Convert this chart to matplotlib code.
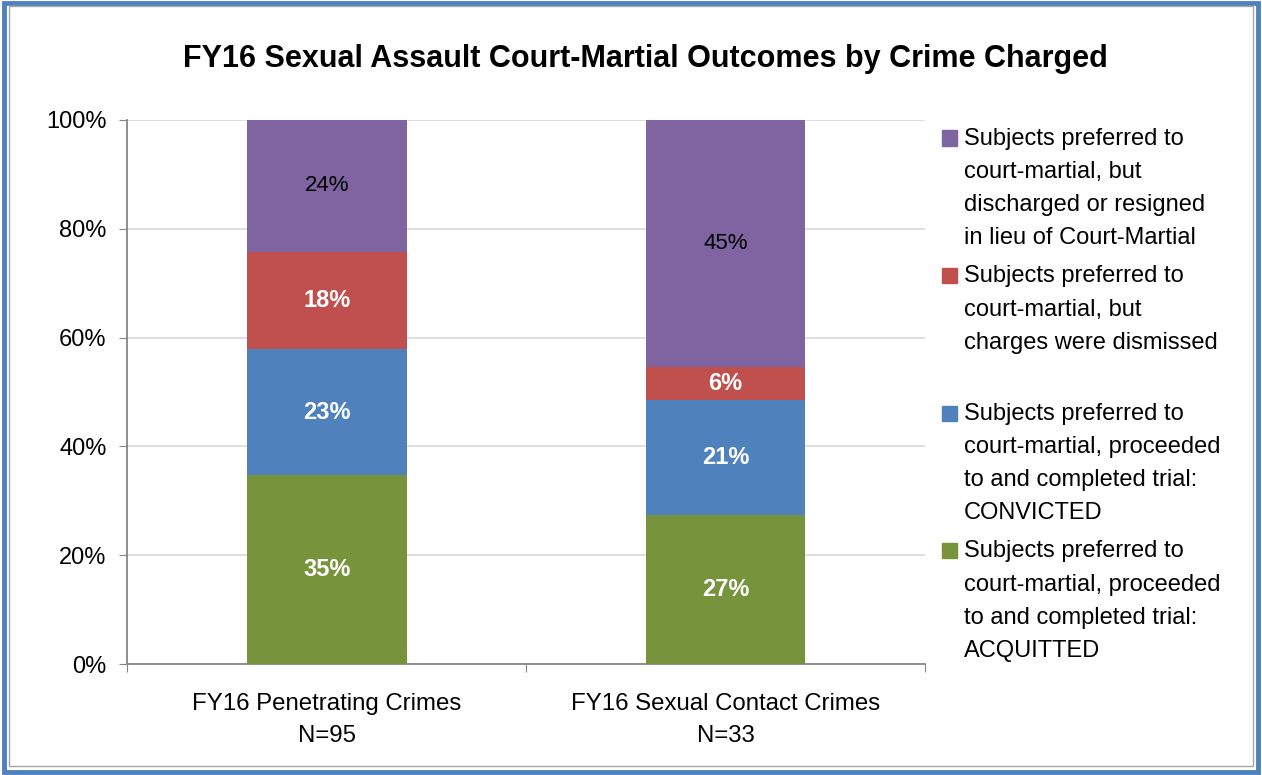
import matplotlib.pyplot as plt
from matplotlib.patches import Rectangle
import numpy as np

plt.rcParams['font.family'] = ['Liberation Sans', 'DejaVu Sans']

# data
categories = ["FY16 Penetrating Crimes\nN=95", "FY16 Sexual Contact Crimes\nN=33"]
acquitted = [34.7, 27.3]
convicted = [23.2, 21.2]
dismissed = [17.9, 6.1]
discharged = [24.2, 45.4]
value_labels = [["35%", "27%"], ["23%", "21%"], ["18%", "6%"], ["24%", "45%"]]

series_names = [
    "Subjects preferred to\ncourt-martial, proceeded\nto and completed trial:\nACQUITTED",
    "Subjects preferred to\ncourt-martial, proceeded\nto and completed trial:\nCONVICTED",
    "Subjects preferred to\ncourt-martial, but\ncharges were dismissed",
    "Subjects preferred to\ncourt-martial, but\ndischarged or resigned\nin lieu of Court-Martial",
]
colors = ["#77933C", "#4F81BD", "#C0504D", "#8064A2"]
label_colors = ["white", "white", "white", "black"]
label_bold = [True, True, True, False]

fig = plt.figure(figsize=(12.62, 7.75), dpi=100)
ax = fig.add_axes([0.101, 0.1432, 0.632, 0.702])

x = np.arange(len(categories))
bottom = np.zeros(len(categories))
for i, vals in enumerate([acquitted, convicted, dismissed, discharged]):
    vals = np.array(vals)
    ax.bar(x, vals, 0.4, bottom=bottom, color=colors[i], zorder=3)
    for j in range(len(x)):
        ax.text(x[j], bottom[j] + vals[j] / 2, value_labels[i][j],
                ha='center', va='center', fontsize=17 if label_bold[i] else 16,
                color=label_colors[i],
                fontweight='bold' if label_bold[i] else 'normal', zorder=4)
    bottom += vals

ax.set_xlim(-0.5, 1.5)
ax.set_ylim(0, 100)
ax.set_yticks([0, 20, 40, 60, 80, 100])
ax.set_yticklabels(["0%", "20%", "40%", "60%", "80%", "100%"], fontsize=17)
ax.yaxis.grid(True, color='#d9d9d9', linewidth=1.2, zorder=0)
ax.set_xticks([-0.5, 0.5, 1.5])
ax.set_xticklabels([])
ax.set_xticks(x, minor=True)
ax.set_xticklabels(categories, minor=True, fontsize=17.3, linespacing=1.55)
ax.tick_params(axis='x', which='minor', length=0, pad=21)
ax.tick_params(axis='x', which='major', length=6, color='#868686', direction='out')
ax.tick_params(axis='y', length=6, color='#868686', pad=9)
for s in ['top', 'right']:
    ax.spines[s].set_visible(False)
ax.spines['left'].set_color('#868686')
ax.spines['bottom'].set_color('#868686')
ax.spines['left'].set_linewidth(1.3)
ax.spines['bottom'].set_linewidth(1.3)

fig.text(0.5115, 0.924, "FY16 Sexual Assault Court-Martial Outcomes by Crime Charged",
         ha='center', va='center', fontsize=22, fontweight='bold')

# legend, top entry first
W, H = 1262.0, 775.0
for k, i in enumerate([3, 2, 1, 0]):
    yc = 138 + k * 137.5
    fig.patches.append(Rectangle((942 / W, 1 - (yc + 7.5) / H), 15 / W, 15 / H,
                                 transform=fig.transFigure, color=colors[i]))
    fig.text(964 / W, 1 - (yc - 10) / H, series_names[i], ha='left', va='top',
             fontsize=17, linespacing=1.65)

# frame
fig.patches.append(Rectangle((0.003, 0.004), 0.994, 0.992, transform=fig.transFigure,
                             fill=False, edgecolor='#4F81BD', linewidth=3.5))
fig.patches.append(Rectangle((0.0075, 0.0115), 0.9855, 0.981, transform=fig.transFigure,
                             fill=False, edgecolor='#A6A6A6', linewidth=1))

fig.savefig("out.png", dpi=100)
